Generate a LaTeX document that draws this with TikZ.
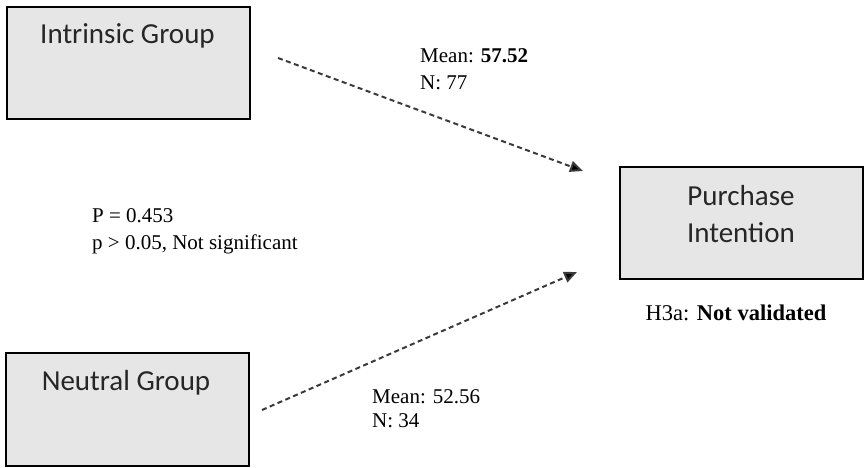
\documentclass[tikz,border=0pt]{standalone}
\usepackage{fontspec}
\setmainfont{Liberation Serif}
\newfontfamily\boxfont{Carlito}
\usetikzlibrary{arrows.meta}
\definecolor{boxfill}{HTML}{E6E6E6}
\definecolor{linegray}{HTML}{3A3A3A}
\tikzset{
  groupbox/.style={draw=black, line width=2pt, fill=boxfill, inner sep=0pt},
  boxtext/.style={font=\boxfont\fontsize{29}{37}\selectfont, text=black!85, inner sep=0pt},
  stattext/.style={font=\fontsize{21}{27}\selectfont, anchor=base west, inner sep=0pt},
  link/.style={draw=linegray, line width=2pt, dash pattern=on 5pt off 3.5pt,
    -{Triangle[length=13pt,width=11pt,fill=black]}}
}
\begin{document}
\begin{tikzpicture}[x=1pt,y=-1pt]
\useasboundingbox (0,0) rectangle (864,468);
% boxes
\node[groupbox, minimum width=243pt, minimum height=112pt] (intr) at (128.5,63) {};
\node[groupbox, minimum width=243pt, minimum height=113pt] (neut) at (127.5,409.5) {};
\node[groupbox, minimum width=243pt, minimum height=112pt] (pi) at (741.5,223) {};
% box titles
\node[boxtext, anchor=base] (intrt) at (127.5,44) {Intrinsic Group};
\node[boxtext, anchor=base] (neutt) at (126,390) {Neutral Group};
\node[boxtext, anchor=base] (pit1) at (741,205) {Purchase};
\node[boxtext, anchor=base] (pit2) at (741,242) {Intention};
% connector ends
\coordinate (a1) at (278,58);
\coordinate (a1e) at (583,171);
\coordinate (a2) at (262,410);
\coordinate (a2e) at (577,272);
\draw[link] (a1) -- (a1e);
\draw[link] (a2) -- (a2e);
% statistics
\node[stattext] (m1a) at (420,63) {Mean: \textbf{57.52}};
\node[stattext] (m1b) at (420,90) {N: 77};
\node[stattext] (pva) at (92,222) {P = 0.453};
\node[stattext] (pvb) at (92,249) {p > 0.05, Not significant};
\node[stattext] (m2a) at (372,403) {Mean: 52.56};
\node[stattext] (m2b) at (372,427) {N: 34};
\node[font=\fontsize{22.5}{27}\selectfont, anchor=base, inner sep=0pt] (h3a) at (736,320) {H3a: \textbf{Not validated}};
\end{tikzpicture}
\end{document}
